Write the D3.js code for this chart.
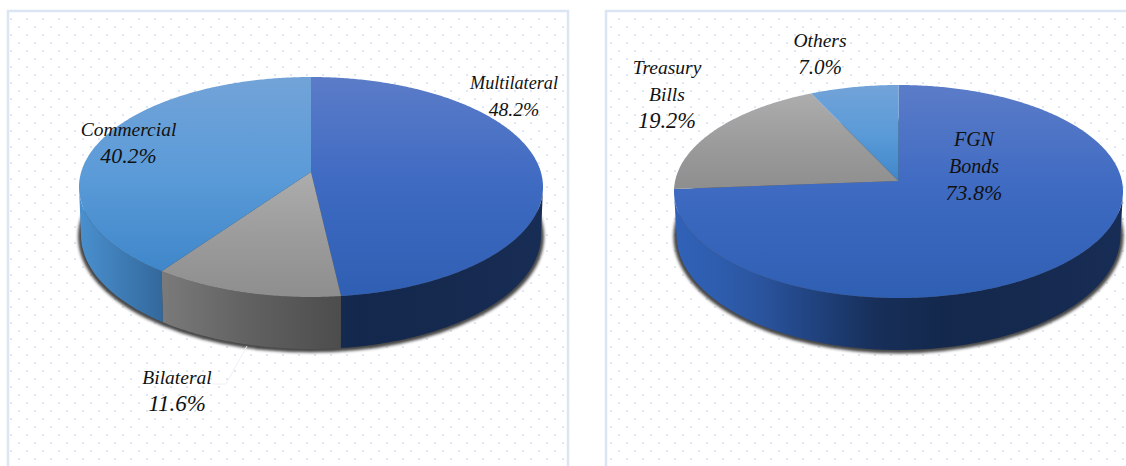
<!DOCTYPE html>
<html>
<head>
<meta charset="utf-8">
<script src="https://cdn.jsdelivr.net/npm/d3@7"></script>
<style>
  html, body { margin: 0; padding: 0; background: #fff; overflow: hidden; }
  svg { display: block; }
  text { font-family: "Liberation Serif", serif; font-style: italic; fill: #111; text-anchor: middle; }
</style>
</head>
<body>
<script>
// chart values
const leftNames = ["Multilateral", "Bilateral", "Commercial"];
const leftValues = [48.2, 11.6, 40.2];
const rightNames = ["FGN Bonds", "Treasury Bills", "Others"];
const rightValues = [73.8, 19.2, 7.0];

const svgwidth = 1126;
const svgheight = 466;

// label centres and sizes (name, percentage), same order as the names
const leftLabelPos = [[514, 89], [177, 384], [128.5, 136]];
const rightLabelPos = [[974, 146], [667, 74], [820, 47]];
const leftLabelSize = [[18.2, 19.6], [19.5, 23], [19.5, 21.8]];
const rightLabelSize = [[20, 22], [19.5, 22.5], [19.5, 21]];

// top face and bottom rim of each disc
const leftDisc = { cx: 311, cy: 187, rx: 232, ry: 110, rimCy: 235, rimRx: 230, rimRy: 114, apex: -15 };
const rightDisc = { cx: 898.5, cy: 191.5, rx: 224.5, ry: 106.5, rimCy: 235, rimRx: 222, rimRy: 115, apex: -10.5 };

const blueTop = ["#5b7cc8", "#3e6ac2", "#2f5fb3"];
const grayTop = ["#adadad", "#9c9c9c", "#8e8e8e"];
const skyTop = ["#72a3d8", "#5b9bd8", "#3f87ca"];
const blueWall = [[0, "#3162b8"], [0.1, "#2e5dae"], [0.2, "#2a539c"], [0.3, "#214482"], [0.45, "#172f59"], [0.6, "#13284c"], [0.8, "#162a50"], [1, "#182d55"]];
const grayWall = [[0.18, "#7a7a7a"], [0.35, "#636363"], [0.56, "#4d4d4d"]];
const skyWall = [[0, "#4a90cf"], [0.18, "#33689c"]];

const svg = d3.select("body").append("svg")
  .attr("width", svgwidth)
  .attr("height", svgheight);
const defs = svg.append("defs");

// dotted panel background
const dots = defs.append("pattern")
  .attr("id", "dots")
  .attr("patternUnits", "userSpaceOnUse")
  .attr("x", 2).attr("y", 2)
  .attr("width", 16).attr("height", 16);
dots.append("rect").attr("width", 16).attr("height", 16).attr("fill", "#fff");
[[8, 0], [0, 8]].forEach(p => {
  dots.append("rect").attr("x", p[0]).attr("y", p[1])
    .attr("width", 2).attr("height", 2).attr("fill", "#dfe6f4");
});

defs.append("filter").attr("id", "blur")
  .attr("x", "-5%").attr("y", "-5%").attr("width", "110%").attr("height", "110%")
  .append("feGaussianBlur").attr("stdDeviation", 1.8);

[[8, 560], [606, 620]].forEach(p => {
  svg.append("rect")
    .attr("x", p[0]).attr("y", 11)
    .attr("width", p[1]).attr("height", 520)
    .attr("fill", "url(#dots)")
    .attr("stroke", "#dce5f4")
    .attr("stroke-width", 2.5);
});

// disc seen in perspective: centre of the circle lands on the apex, rim stays an ellipse
function project(d, theta, rim) {
  const k = d.apex / d.ry;
  const a = Math.sqrt(1 - k * k);
  const u = Math.sin(theta), v = -Math.cos(theta);
  const w = 1 + k * v;
  const rx = rim ? d.rimRx : d.rx, ry = rim ? d.rimRy : d.ry, cy = rim ? d.rimCy : d.cy;
  return [d.cx + rx * a * u / w, cy + ry * (v + k) / w];
}

function arcPoints(d, from, to, rim) {
  const n = Math.max(2, Math.ceil(Math.abs(to - from) / 0.01));
  return d3.range(n + 1).map(i => project(d, from + (to - from) * i / n, rim));
}

const line = d3.line();
let gradId = 0;

function gradient(units, x1, y1, x2, y2, stops) {
  const id = "g" + gradId++;
  const g = defs.append("linearGradient").attr("id", id)
    .attr("gradientUnits", units)
    .attr("x1", x1).attr("y1", y1).attr("x2", x2).attr("y2", y2);
  stops.forEach(s => g.append("stop").attr("offset", s[0]).attr("stop-color", s[1]));
  return "url(#" + id + ")";
}

function drawPie(d, names, values, labelPos, labelSize, topFills, wallFills) {
  const slices = d3.pie().sort(null)(values);
  const g = svg.append("g");

  // soft shadow under the rim
  g.append("ellipse")
    .attr("cx", d.cx).attr("cy", d.rimCy + 1.5)
    .attr("rx", d.rimRx + 3).attr("ry", d.rimRy + 2)
    .attr("fill", "#333")
    .attr("opacity", 0.9)
    .attr("filter", "url(#blur)");

  // front wall, only the part of each slice facing the viewer
  const k = d.apex / d.ry;
  const wallStart = Math.acos(k);
  const wallEnd = 2 * Math.PI - wallStart;
  slices.forEach((s, i) => {
    const from = Math.max(s.startAngle, wallStart);
    const to = Math.min(s.endAngle, wallEnd);
    if (to <= from) return;
    const pts = arcPoints(d, from, to, false).concat(arcPoints(d, to, from, true));
    g.append("path")
      .attr("d", line(pts) + "Z")
      .attr("fill", gradient("userSpaceOnUse", d.cx - d.rx, 0, d.cx + d.rx, 0, wallFills[i]));
  });

  // top face, gradient runs over each slice's own box
  const apex = [d.cx, d.cy + d.apex];
  slices.forEach((s, i) => {
    const stops = topFills[i].map((c, j) => [j / 2, c]);
    g.append("path")
      .attr("d", line([apex].concat(arcPoints(d, s.startAngle, s.endAngle, false))) + "Z")
      .attr("fill", gradient("objectBoundingBox", 0, 0, 0, 1, stops));
  });

  // labels: name (wrapped on spaces) then percentage
  slices.forEach((s, i) => {
    const words = names[i].split(" ");
    const lines = words.concat(values[i].toFixed(1) + "%");
    const t = g.append("text");
    lines.forEach((txt, j) => {
      t.append("tspan")
        .attr("x", labelPos[i][0])
        .attr("y", labelPos[i][1] + j * 27)
        .style("font-size", labelSize[i][j < words.length ? 0 : 1] + "px")
        .text(txt);
    });
  });
}

drawPie(leftDisc, leftNames, leftValues, leftLabelPos, leftLabelSize, [blueTop, grayTop, skyTop], [blueWall, grayWall, skyWall]);
drawPie(rightDisc, rightNames, rightValues, rightLabelPos, rightLabelSize, [blueTop, grayTop, skyTop], [blueWall, grayWall, skyWall]);

// faint leader line of the Bilateral label
svg.append("path")
  .attr("d", "M247,346L226,384L213,384")
  .attr("fill", "none")
  .attr("stroke", "#f0f0f0")
  .attr("stroke-width", 1);
</script>
</body>
</html>
